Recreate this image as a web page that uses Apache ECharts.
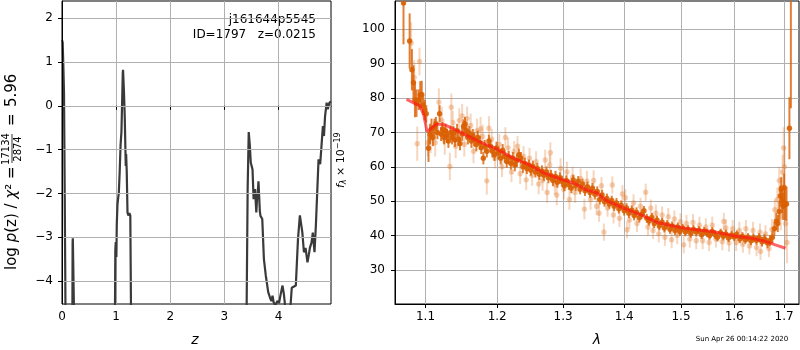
<!DOCTYPE html>
<html lang="en">
<head>
    <meta charset="UTF-8">
    <title>j161644p5545</title>
    <script src="https://cdn.jsdelivr.net/npm/echarts@6/dist/echarts.min.js"></script>
    <style>
        html, body {
            margin: 0;
            padding: 0;
            background: #fff;
        }
        #chart {
            width: 800px;
            height: 350px;
        }
    </style>
</head>
<body>
<div id='chart'></div>
<script>
    // left panel: log p(z)
    var zVals = [0, 0.012, 0.025, 0.037, 0.05, 0.06, 0.068, 0.19, 0.196, 0.2, 0.222, 0.232,
        0.975, 0.985, 0.993, 1.0, 1.005, 1.012, 1.025, 1.035, 1.05, 1.066, 1.082, 1.098, 1.113, 1.123,
        1.128, 1.135, 1.145, 1.159, 1.17, 1.178, 1.185, 1.19, 1.196, 1.21, 1.225, 1.245, 1.262, 1.28,
        3.405, 3.43, 3.45, 3.457, 3.47, 3.488, 3.52, 3.54, 3.555, 3.567, 3.59, 3.605, 3.617, 3.63, 3.64,
        3.655, 3.667, 3.70, 3.73, 3.765, 3.81, 3.85, 3.87, 3.89, 3.91, 3.94, 3.98, 4.01, 4.04, 4.074,
        4.1, 4.125, 4.22, 4.245, 4.26, 4.32, 4.36, 4.395, 4.41, 4.44, 4.47, 4.50, 4.535, 4.56, 4.58,
        4.61, 4.634, 4.665, 4.69, 4.72, 4.74, 4.77, 4.79, 4.82, 4.84, 4.86, 4.89, 4.91, 4.94, 4.97];
    var logpVals = [1.5, 1.45, 0.9, 0.3, -1.98, -3.8, -5.5, -5.5, -3.1, -3.02, -3.05, -5.5,
        -5.5, -3.3, -3.11, -3.3, -3.45, -2.7, -2.25, -2.13, -1.98, -1.5, -0.9, -0.6, 0.2, 0.75,
        0.82, 0.8, 0.3, -0.24, -0.9, -1.37, -1.1, -1.07, -1.5, -2.43, -2.5, -2.45, -2.5, -5.5,
        -5.5, -1.9, -0.6, -0.58, -0.9, -1.3, -1.45, -2.13, -2.0, -1.9, -2.43, -2.1, -1.98, -1.72, -1.71,
        -2.4, -2.51, -2.58, -3.49, -3.87, -4.25, -4.4, -4.45, -4.33, -4.48, -4.55, -4.45, -4.5, -4.3, -4.1,
        -4.3, -4.6, -4.6, -4.15, -4.14, -4.1, -3.04, -2.5, -2.47, -2.88, -3.34, -3.24, -3.57, -3.4, -3.24,
        -3.12, -2.89, -3.34, -2.74, -1.83, -1.22, -1.33, -0.99, -0.46, -0.69, -0.24, 0.07, -0.08, 0.07, 0.1];
    var zTicks = [0, 1, 2, 3, 4];
    var logpTicks = [-4, -3, -2, -1, 0, 1, 2];

    // right panel: spectrum [lambda, flux, err]
    var goodPoints = [[1.071,107.6,12],[1.079,96.6,8],[1.082,88.2,6],[1.084,84.5,5],[1.086,79.4,5],[1.088,78.5,4],[1.091,79.5,3],[1.093,80.9,4],[1.095,81,4],[1.097,78,3],[1.099,76.5,3],[1.101,75.4,2.5],[1.104,65.4,4],[1.106,69.5,3],[1.108,71,3],[1.110,68.5,2.5],[1.112,71.5,2.5],[1.114,72.5,2],[1.116,70,2],[1.119,75.4,2.5],[1.121,69.5,2],[1.123,71,2],[1.125,68.5,2],[1.127,70.5,2],[1.129,69,2],[1.131,67.5,2],[1.134,70,2],[1.136,68.5,2],[1.138,69.8,2],[1.140,67.8,2],[1.143,70.5,2],[1.145,68,2],[1.147,66.8,2],[1.150,69.5,2],[1.152,71.8,2],[1.154,72.5,2],[1.156,70.5,2],[1.158,68.5,2],[1.160,69.8,2],[1.163,67.5,2],[1.165,69,2],[1.167,68,2],[1.170,66.5,2],[1.172,68.5,2],[1.175,67,2],[1.177,65.5,1.8],[1.180,62.5,1.8],[1.182,66,1.8],[1.185,64.5,1.8],[1.188,67.5,1.8],[1.190,66,1.8],[1.193,64.5,1.8],[1.196,63.5,1.8],[1.199,65.5,1.8],[1.202,64,1.8],[1.205,62.5,1.8],[1.208,64.8,1.8],[1.211,63,1.8],[1.214,61.5,1.8],[1.217,62.8,1.8],[1.220,61,1.8],[1.223,62.5,1.8],[1.226,60.5,1.8],[1.229,61.8,1.8],[1.232,63.5,1.8],[1.235,62.5,1.8],[1.238,60,1.8],[1.241,61,1.6],[1.244,59.5,1.6],[1.247,60.5,1.6],[1.250,59,1.6],[1.253,60.2,1.6],[1.257,58.5,1.6],[1.260,59.5,1.6],[1.263,57.8,1.6],[1.267,58.8,1.6],[1.270,57.5,1.6],[1.274,58.5,1.6],[1.277,56.8,1.6],[1.281,57.5,1.6],[1.284,56,1.6],[1.288,57.2,1.6],[1.291,55.5,1.6],[1.295,56.8,1.6],[1.298,55.8,1.6],[1.302,54.5,1.5],[1.305,56,1.5],[1.309,54.8,1.5],[1.313,53.8,1.5],[1.316,56.2,1.5],[1.320,54.5,1.5],[1.324,55.8,1.5],[1.327,53.5,1.5],[1.331,55,1.5],[1.335,53,1.5],[1.339,54.2,1.5],[1.343,52.5,1.5],[1.347,53.8,1.5],[1.351,52,1.5],[1.355,52.8,1.5],[1.359,50.5,1.5],[1.363,51.8,1.5],[1.367,49.8,1.4],[1.371,50.8,1.4],[1.375,49.2,1.4],[1.379,50.2,1.4],[1.383,48.5,1.4],[1.387,49.5,1.4],[1.391,47.8,1.4],[1.395,48.8,1.4],[1.400,47.2,1.4],[1.404,48,1.4],[1.408,46.5,1.4],[1.413,47.4,1.4],[1.417,45.8,1.4],[1.421,46.8,1.4],[1.426,45.2,1.4],[1.430,46.2,1.4],[1.434,47.2,1.4],[1.439,45,1.3],[1.443,44.2,1.3],[1.448,45.3,1.3],[1.452,43.5,1.3],[1.457,44.5,1.3],[1.461,42.8,1.3],[1.466,43.9,1.3],[1.470,42.2,1.3],[1.475,43.2,1.3],[1.480,41.8,1.3],[1.484,42.8,1.3],[1.489,41.5,1.3],[1.494,42.5,1.3],[1.498,41.2,1.3],[1.503,42.2,1.2],[1.508,41,1.2],[1.513,41.8,1.2],[1.518,40.6,1.2],[1.523,41.8,1.2],[1.528,41,1.2],[1.533,41.5,1.2],[1.538,40.2,1.2],[1.543,41.3,1.2],[1.548,40.8,1.2],[1.553,40,1.2],[1.558,41.2,1.2],[1.563,40.3,1.2],[1.568,39.5,1.2],[1.574,40.8,1.2],[1.579,39.8,1.2],[1.584,40.5,1.2],[1.589,39.3,1.2],[1.595,40.2,1.2],[1.600,39.6,1.2],[1.605,40.3,1.2],[1.611,39,1.2],[1.616,39.8,1.2],[1.622,38.8,1.2],[1.627,39.5,1.2],[1.633,38.5,1.3],[1.638,39.3,1.3],[1.644,38.6,1.3],[1.649,39.4,1.3],[1.655,38.2,1.4],[1.660,39,1.4],[1.666,37.8,1.5],[1.671,38.5,1.6],[1.676,39.5,1.8],[1.680,42,2],[1.684,44.2,2.5],[1.687,43.5,2.5],[1.690,47,3],[1.692,51.5,3],[1.694,53.5,3.5],[1.696,50,3.5],[1.698,48.5,4],[1.700,54,4],[1.702,49,4.5],[1.705,49.2,5],[1.711,71.2,9],[1.714,115,38]];
    var weakPoints = [[1.081,96,6],[1.085,86,5],[1.089,66.7,5],[1.092,90.6,4],[1.103,67,4],[1.107,68,4],[1.113,67,4],[1.118,78.8,4],[1.122,73.5,4],[1.126,67.5,4],[1.133,60.1,4],[1.135,77.3,4],[1.137,72.8,3.5],[1.141,66,3.5],[1.146,73.5,3.5],[1.150,74.8,3.5],[1.153,66.5,3.5],[1.157,74,3.5],[1.162,72,3.5],[1.166,64.5,3.5],[1.171,70.5,3.5],[1.176,71,3.5],[1.179,68.8,3.5],[1.185,55.9,4],[1.188,71.2,3.5],[1.192,68,3],[1.197,62.5,3],[1.203,66.5,3],[1.207,60,3],[1.212,68.5,3],[1.216,65.5,3],[1.221,58.5,3],[1.225,64.5,3],[1.230,66,3],[1.234,58,3],[1.239,63,3],[1.243,56.2,3],[1.248,62.5,3],[1.252,57.5,3],[1.258,61.5,3],[1.262,55,3],[1.268,56,3],[1.272,62,3],[1.275,52.5,3],[1.279,60.5,3],[1.280,64.1,3],[1.287,54.8,3],[1.290,51.8,3],[1.296,59.5,3],[1.301,53.5,3],[1.306,58.5,3],[1.310,50.5,3],[1.315,57,3],[1.319,52.5,3],[1.328,56.5,3],[1.334,47.7,3],[1.338,55.8,3],[1.344,50.5,3],[1.349,56,3],[1.354,48.5,2.5],[1.358,46.5,2.5],[1.362,54.5,2.5],[1.366,41,2.5],[1.372,48,2.5],[1.380,54.7,2.5],[1.382,46,2.5],[1.392,45,2.5],[1.397,52.1,2.5],[1.402,51,2.5],[1.405,41.7,2.5],[1.409,44.5,2.5],[1.416,49.5,2.5],[1.422,43.5,2.5],[1.428,48.5,2.5],[1.437,52.6,2.5],[1.441,42.5,2.5],[1.446,48,2.5],[1.450,41.5,2.5],[1.455,46.5,2.5],[1.460,40.5,2.5],[1.466,46,2.5],[1.471,39.5,2.5],[1.477,45.5,2.5],[1.483,38.8,2.5],[1.488,44.8,2.5],[1.493,40,2.5],[1.499,44,2.5],[1.505,37.3,2.5],[1.510,43.5,2.5],[1.516,39,2.5],[1.522,43.8,2.5],[1.528,38.5,2.5],[1.534,43,2.5],[1.540,38.5,2.5],[1.546,42.5,2.5],[1.552,38,2.5],[1.558,43,2.5],[1.565,39,2.5],[1.577,38.2,2.5],[1.580,44.1,2.5],[1.584,42.2,2.5],[1.590,37.8,2.5],[1.597,42,2.5],[1.604,38,2.5],[1.610,41.5,2.5],[1.617,37.5,2.5],[1.623,42,2.5],[1.630,37,2.5],[1.637,41.5,2.5],[1.644,36.5,2.5],[1.651,41,2.5],[1.652,35.4,2.5],[1.662,40.5,2.5],[1.669,36.2,2.5],[1.675,41.8,3],[1.681,47.5,3],[1.686,50.5,3.5],[1.690,56,4],[1.693,45.5,4],[1.697,58.5,5],[1.699,65.5,6],[1.701,60,6],[1.703,43.5,7],[1.706,38,6]];
    var modelLine = [[1.0749,79.6],[1.0924,77.7],[1.0977,75.1],[1.102,70.2],[1.1147,72.4],[1.126,72.2],[1.146,70.2],[1.174,67.3],[1.2,65.1],[1.2237,62.5],[1.247,60.6],[1.271,58.1],[1.3,56.2],[1.318,55.2],[1.337,53.3],[1.356,52.3],[1.368,50.4],[1.4,47.9],[1.429,46.0],[1.458,43.8],[1.5,42.3],[1.528,41.7],[1.558,41.2],[1.6,39.9],[1.635,39.2],[1.662,38.3],[1.682,37.3],[1.703,36.3]];
    var lamTicks = [1.1, 1.2, 1.3, 1.4, 1.5, 1.6, 1.7];
    var fluxTicks = [30, 40, 50, 60, 70, 80, 90, 100];

    var FONT = 'DejaVu Sans';
    var GRIDC = '#b0b0b0';

    // x axis of the spectrum is logarithmic in lambda
    function toLog(p) {
        return [Math.log(p[0])].concat(p.slice(1));
    }

    function minus(v) {
        return String(v).replace('-', '\u2212');
    }

    function errRender(barColor, dotColor) {
        return function (params, api) {
            var x = api.value(0), y = api.value(1), e = api.value(2);
            var c = api.coord([x, y]);
            var hi = api.coord([x, y + e]);
            var lo = api.coord([x, y - e]);
            return {
                type: 'group',
                children: [
                    {type: 'line', shape: {x1: c[0], y1: hi[1], x2: c[0], y2: lo[1]},
                        style: {stroke: barColor, lineWidth: 2}},
                    {type: 'circle', shape: {cx: c[0], cy: c[1], r: 2.7},
                        style: {fill: dotColor}}
                ]
            };
        };
    }

    function axisCommon(ticks, fmt, margin) {
        return {
            axisLine: {show: true, lineStyle: {color: '#000', width: 1}},
            axisTick: {show: true, customValues: ticks, length: 4, lineStyle: {color: '#000'}},
            axisLabel: {customValues: ticks, formatter: fmt, margin: margin, color: '#000',
                fontSize: 12, fontFamily: FONT},
            splitLine: {show: true, lineStyle: {color: GRIDC, width: 1}}
        };
    }

    function txt(x, y, s, size, align, extra) {
        return {type: 'text', x: x, y: y, style: Object.assign({text: s, align: align || 'left',
            verticalAlign: 'middle', fontSize: size, fontFamily: FONT, fill: '#000'}, extra || {})};
    }

    var chart = echarts.init(document.getElementById('chart'), null, {renderer: 'canvas'});

    var lx = Object.assign({type: 'value', gridIndex: 0, min: 0, max: 4.97},
        axisCommon(zTicks, function (v) { return minus(v); }, 7));
    var ly = Object.assign({type: 'value', gridIndex: 0, min: -4.52, max: 2.39, z: 5},
        axisCommon(logpTicks, function (v) { return minus(v); }, 9));
    var rx = Object.assign({type: 'value', gridIndex: 1, min: Math.log(1.060), max: Math.log(1.731)},
        axisCommon(lamTicks.map(Math.log), function (v) { return Math.exp(v).toFixed(1); }, 7));
    var ry = Object.assign({type: 'value', gridIndex: 1, min: 20.1, max: 108.2},
        axisCommon(fluxTicks, function (v) { return String(v); }, 10));

    var italic = {fontStyle: 'italic', fontSize: 15, fontFamily: FONT};

    var option = {
        animation: false,
        backgroundColor: '#fff',
        grid: [
            {left: 62, right: 469, top: 1, bottom: 46, show: true, borderColor: '#000', borderWidth: 1},
            {left: 395, right: 1, top: 1, bottom: 46, show: true, borderColor: '#000', borderWidth: 1}
        ],
        xAxis: [lx, rx],
        yAxis: [ly, ry],
        series: [
            {
                type: 'line',
                xAxisIndex: 0,
                yAxisIndex: 0,
                data: zVals.map(function (z, i) { return [z, logpVals[i]]; }),
                showSymbol: false,
                clip: true,
                lineStyle: {color: '#3a3a3a', width: 2.2},
                z: 3
            },
            {
                type: 'custom',
                xAxisIndex: 1,
                yAxisIndex: 1,
                clip: true,
                renderItem: errRender('rgba(225,120,40,0.3)', 'rgba(225,120,40,0.35)'),
                data: weakPoints.map(toLog),
                z: 2
            },
            {
                type: 'custom',
                xAxisIndex: 1,
                yAxisIndex: 1,
                clip: true,
                renderItem: errRender('rgba(217,95,2,0.8)', 'rgba(217,95,2,0.9)'),
                data: goodPoints.map(toLog),
                z: 3
            },
            {
                type: 'line',
                xAxisIndex: 1,
                yAxisIndex: 1,
                data: modelLine.map(toLog),
                showSymbol: false,
                clip: true,
                lineStyle: {color: 'rgba(255,20,20,0.65)', width: 3},
                z: 4
            }
        ],
        graphic: [
            txt(316, 20, 'j161644p5545', 12, 'right'),
            txt(316, 35, 'ID=1797   z=0.0215', 12, 'right'),
            txt(195, 340, 'z', 14, 'center', {fontStyle: 'italic'}),
            txt(597, 340, 'λ', 14, 'center', {fontStyle: 'italic'}),
            txt(742, 339, 'Sun Apr 26 00:14:22 2020', 7, 'center'),
            {
                // rotated y label of the left panel, written bottom to top
                type: 'group', x: 12, y: 270, rotation: Math.PI / 2,
                children: [
                    txt(0, 0, 'log {i|p}(z) / {i|χ}² =', 15, 'left', {rich: {i: italic}}),
                    txt(121, -5.5, '17134', 10, 'center'),
                    {type: 'line', shape: {x1: 107, y1: 0, x2: 136, y2: 0},
                        style: {stroke: '#000', lineWidth: 0.8}},
                    txt(121, 6, '2874', 10, 'center'),
                    txt(144, 0, '=', 15, 'left'),
                    txt(163, 0, '5.96', 15, 'left')
                ]
            },
            {
                type: 'group', x: 341, y: 188, rotation: Math.PI / 2,
                children: [
                    txt(0, 0, '{i|f}{sub|λ} × 10{sup|\u221219}', 11, 'left', {
                        rich: {
                            i: {fontStyle: 'italic', fontSize: 11, fontFamily: FONT},
                            sub: {fontStyle: 'italic', fontSize: 8, fontFamily: FONT, verticalAlign: 'bottom', padding: [6, 0, 0, 0]},
                            sup: {fontSize: 8, fontFamily: FONT, verticalAlign: 'top', padding: [0, 0, 6, 0]}
                        }
                    })
                ]
            }
        ]
    };
    chart.setOption(option);
</script>
</body>
</html>
